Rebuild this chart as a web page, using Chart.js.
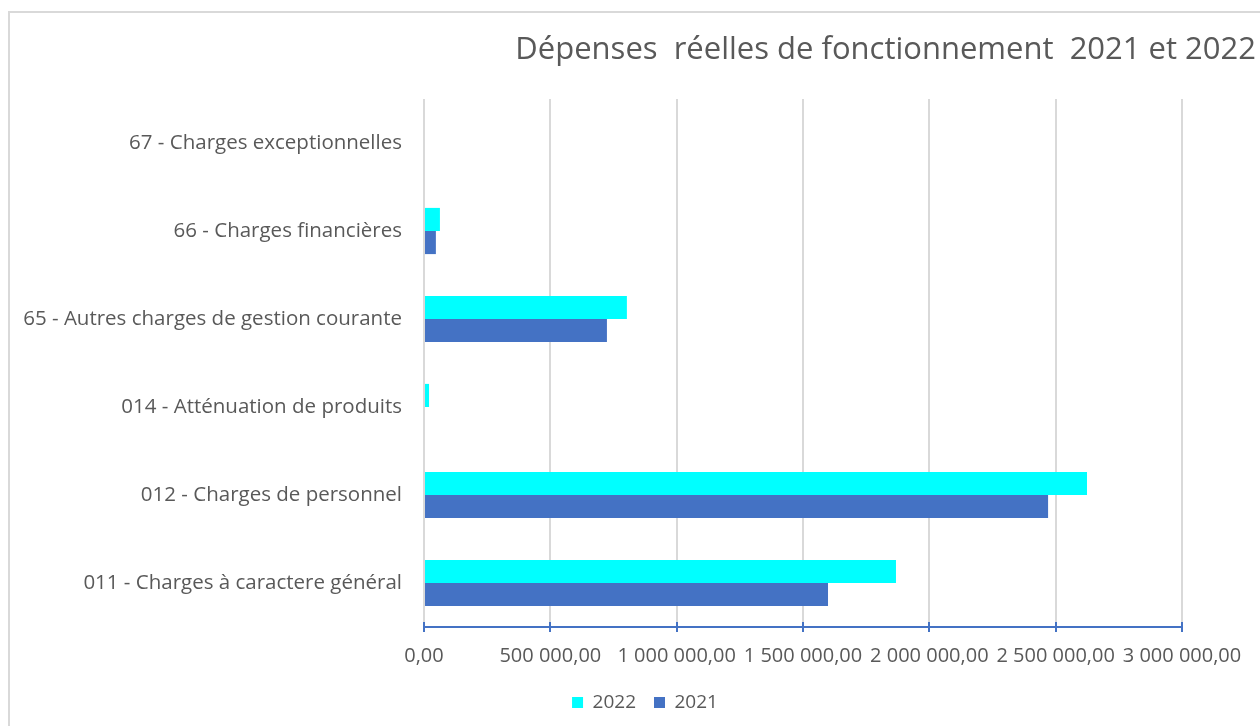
<!DOCTYPE html>
<html>
<head>
<meta charset="utf-8">
<script src="https://cdn.jsdelivr.net/npm/chart.js@4.4.1/dist/chart.umd.min.js"></script>
<style>
  html,body{margin:0;padding:0;background:#fff;}
  #wrap{position:relative;width:1260px;height:726px;overflow:hidden;}
  #frame{position:absolute;left:8px;top:11px;width:1400px;height:800px;border:2px solid #d9d9d9;box-sizing:border-box;}
  canvas{position:absolute;left:0;top:0;}
</style>
</head>
<body>
<div id="wrap">
  <div id="frame"></div>
  <canvas id="c" width="1260" height="726"></canvas>
</div>
<script>
const categories = [
  "67 - Charges exceptionnelles",
  "66 - Charges financières",
  "65 - Autres charges de gestion courante",
  "014 - Atténuation de produits",
  "012 - Charges de personnel",
  "011 - Charges à caractere général"
];
const values2022 = [0, 63000, 803000, 20000, 2624000, 1868000];
const values2021 = [0, 47000, 724000, 0, 2470000, 1599000];
const xTicks = [0, 500000, 1000000, 1500000, 2000000, 2500000, 3000000];
const titleText = "Dépenses  réelles de fonctionnement  2021 et 2022";

function fmt(v){
  return Math.round(v).toString().replace(/\B(?=(\d{3})+(?!\d))/g, " ") + ",00";
}

const FONT = "'Open Sans', Lato, sans-serif";
const GREY = "#595959";

const extras = {
  id: 'extras',
  afterLayout(chart){
    const lg = chart.legend;
    if (lg) { lg.left += 49; lg.right += 49; }
  },
  afterDraw(chart){
    const x = chart.scales.x, ctx = chart.ctx;
    const y = chart.chartArea.bottom;
    ctx.save();
    ctx.strokeStyle = '#4472c4';
    ctx.lineWidth = 2;
    xTicks.forEach(v => {
      const px = Math.round(x.getPixelForValue(v));
      ctx.beginPath();
      ctx.moveTo(px, y - 5);
      ctx.lineTo(px, y + 5);
      ctx.stroke();
    });
    ctx.beginPath();
    ctx.moveTo(x.left, y);
    ctx.lineTo(x.right, y);
    ctx.stroke();
    // title
    ctx.fillStyle = GREY;
    ctx.font = "31px " + FONT;
    ctx.textAlign = 'right';
    ctx.textBaseline = 'middle';
    ctx.fillText(titleText, 1256, 50);
    ctx.restore();
  }
};

new Chart(document.getElementById('c'), {
  type: 'bar',
  data: {
    labels: categories,
    datasets: [
      { label: '2022', data: values2022, backgroundColor: '#00ffff', borderWidth: 0 },
      { label: '2021', data: values2021, backgroundColor: '#4472c4', borderWidth: 0 }
    ]
  },
  options: {
    indexAxis: 'y',
    responsive: false,
    animation: false,
    devicePixelRatio: 1,
    layout: { padding: { left: 10, right: 78, top: 99, bottom: 4 } },
    plugins: {
      title: { display: false },
      legend: {
        position: 'bottom',
        labels: {
          color: GREY,
          font: { family: FONT, size: 19 },
          boxWidth: 11,
          boxHeight: 11,
          padding: 18
        }
      },
      tooltip: { enabled: false }
    },
    datasets: { bar: { categoryPercentage: 0.525, barPercentage: 1.0 } },
    scales: {
      x: {
        min: 0,
        max: 3000000,
        afterBuildTicks(scale){ scale.ticks = xTicks.map(v => ({ value: v })); },
        grid: { color: '#d9d9d9', lineWidth: 2, drawTicks: true, tickLength: 10, tickColor: 'rgba(0,0,0,0)' },
        border: { display: false },
        ticks: {
          autoSkip: false,
          maxRotation: 0,
          color: GREY,
          font: { family: FONT, size: 20 },
          padding: 7,
          callback: v => fmt(v)
        }
      },
      y: {
        grid: { display: false },
        border: { display: false },
        afterFit(scale){ scale.width = 414; },
        ticks: {
          color: GREY,
          font: { family: FONT, size: 20.5 },
          padding: 14
        }
      }
    }
  },
  plugins: [extras]
});
</script>
</body>
</html>
